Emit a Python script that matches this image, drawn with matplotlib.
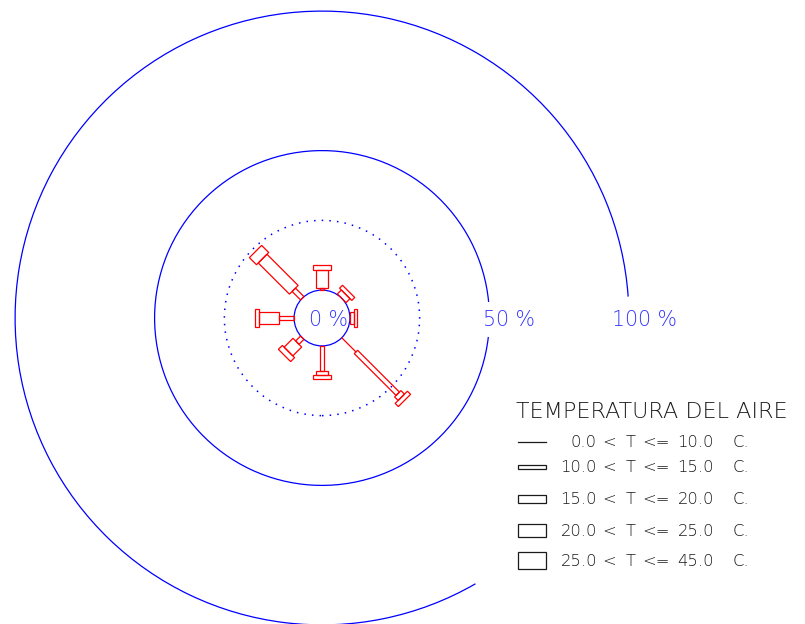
import numpy as np
import matplotlib.pyplot as plt
from matplotlib.patches import Polygon, Arc, Circle, Rectangle

# wind directions and their angle (degrees, counter-clockwise from east)
directions = ['N', 'NE', 'E', 'SE', 'S', 'SW', 'W', 'NW']
dir_angles = [90, 45, 0, -45, -90, -135, 180, 135]

# frequency (%) per direction for each air temperature class
t_00_10 = [0.0, 0.0, 0.0, 7.2, 0.0, 0.0, 0.0, 0.0]
t_10_15 = [0.8, 0.0, 0.0, 21.2, 9.0, 2.5, 5.4, 4.3]
t_15_20 = [0.0, 0.0, 0.0, 1.8, 0.0, 0.0, 0.0, 0.0]
t_20_25 = [6.4, 2.0, 1.6, 0.0, 1.4, 4.5, 7.2, 15.8]
t_25_45 = [1.8, 1.5, 0.9, 1.6, 1.4, 2.0, 1.4, 3.6]

t_low = ['0.0', '10.0', '15.0', '20.0', '25.0']
t_high = ['10.0', '15.0', '20.0', '25.0', '45.0']
ring_pct = [0, 50, 100]

R0 = 10.0          # radius of the 0 % ring
PX = 2.79          # pixels per unit
CX, CY = 322, 318  # centre of the rose in pixels


def px(x, y):
    return (x - CX) / PX, (CY - y) / PX


fig = plt.figure(figsize=(8.05, 6.24), dpi=100)
ax = fig.add_axes([0, 0, 1, 1])
xa, yb = px(0, 624)
xb, ya = px(805, 0)
ax.set_xlim(xa, xb)
ax.set_ylim(yb, ya)
ax.axis('off')

blue = '#0000ff'
red = '#ff0000'
lw = 0.9

# rings
ax.add_patch(Circle((0, 0), R0, fill=False, ec=blue, lw=lw))
ax.add_patch(Circle((0, 0), R0 + 25, fill=False, ec=blue, lw=1.1, ls=(0, (1, 4))))
ax.add_patch(Arc((0, 0), 2 * (R0 + 50), 2 * (R0 + 50), theta1=5.5, theta2=353.5, ec=blue, lw=lw))
ax.add_patch(Arc((0, 0), 2 * (R0 + 100), 2 * (R0 + 100), theta1=4, theta2=300, ec=blue, lw=lw))

# arms
classes = [t_00_10, t_10_15, t_15_20, t_20_25, t_25_45]
widths = [0, 1.7, 3.2, 4.4, 6.2]
for i, ang in enumerate(dir_angles):
    a = np.deg2rad(ang)
    u = np.array([np.cos(a), np.sin(a)])
    n = np.array([-np.sin(a), np.cos(a)])
    r = R0
    for vals, w in zip(classes, widths):
        v = vals[i]
        if v <= 0:
            continue
        r2 = r + v
        if w == 0:
            p, q = u * r, u * r2
            ax.plot([p[0], q[0]], [p[1], q[1]], color=red, lw=lw)
        else:
            pts = [u * r + n * w / 2, u * r2 + n * w / 2, u * r2 - n * w / 2, u * r - n * w / 2]
            ax.add_patch(Polygon(pts, closed=True, fill=False, ec=red, lw=lw))
        r = r2

# ring labels
font = dict(family='DejaVu Sans', fontweight='light')
label_left = [309, 483, 612]
for p, xl in zip(ring_pct, label_left):
    ax.text(*px(xl, 326.5), f'{p} %', color='#3333ff', fontsize=14.8, ha='left', va='baseline', **font)

# legend
ink = '#1a1a1a'
ax.text(*px(516, 418.5), 'TEMPERATURA DEL AIRE', color=ink, fontsize=16, ha='left', va='baseline', **font)
row_mid = [441.7, 467.0, 499.0, 530.5, 560.8]
for k in range(5):
    ym = row_mid[k]
    w = widths[k]
    x1, y1 = px(518, ym)
    x2, _ = px(546, ym)
    if w == 0:
        ax.plot([x1, x2], [y1, y1], color=ink, lw=lw)
    else:
        ax.add_patch(Rectangle((x1, y1 - w / 2), x2 - x1, w, fill=False, ec=ink, lw=lw))
    yb_ = ym + 5.5
    ax.text(*px(597, yb_), t_low[k], color=ink, fontsize=11.8, ha='right', va='baseline', **font)
    ax.text(*px(609, yb_), '<', color=ink, fontsize=11.8, ha='center', va='baseline', **font)
    ax.text(*px(631, yb_), 'T', color=ink, fontsize=11.8, ha='center', va='baseline', **font)
    ax.text(*px(656, yb_), '<=', color=ink, fontsize=11.8, ha='center', va='baseline', **font)
    ax.text(*px(714, yb_), t_high[k], color=ink, fontsize=11.8, ha='right', va='baseline', **font)
    ax.text(*px(733, yb_), 'C.', color=ink, fontsize=11.8, ha='left', va='baseline', **font)

fig.savefig('out.png', dpi=100, facecolor='white')
